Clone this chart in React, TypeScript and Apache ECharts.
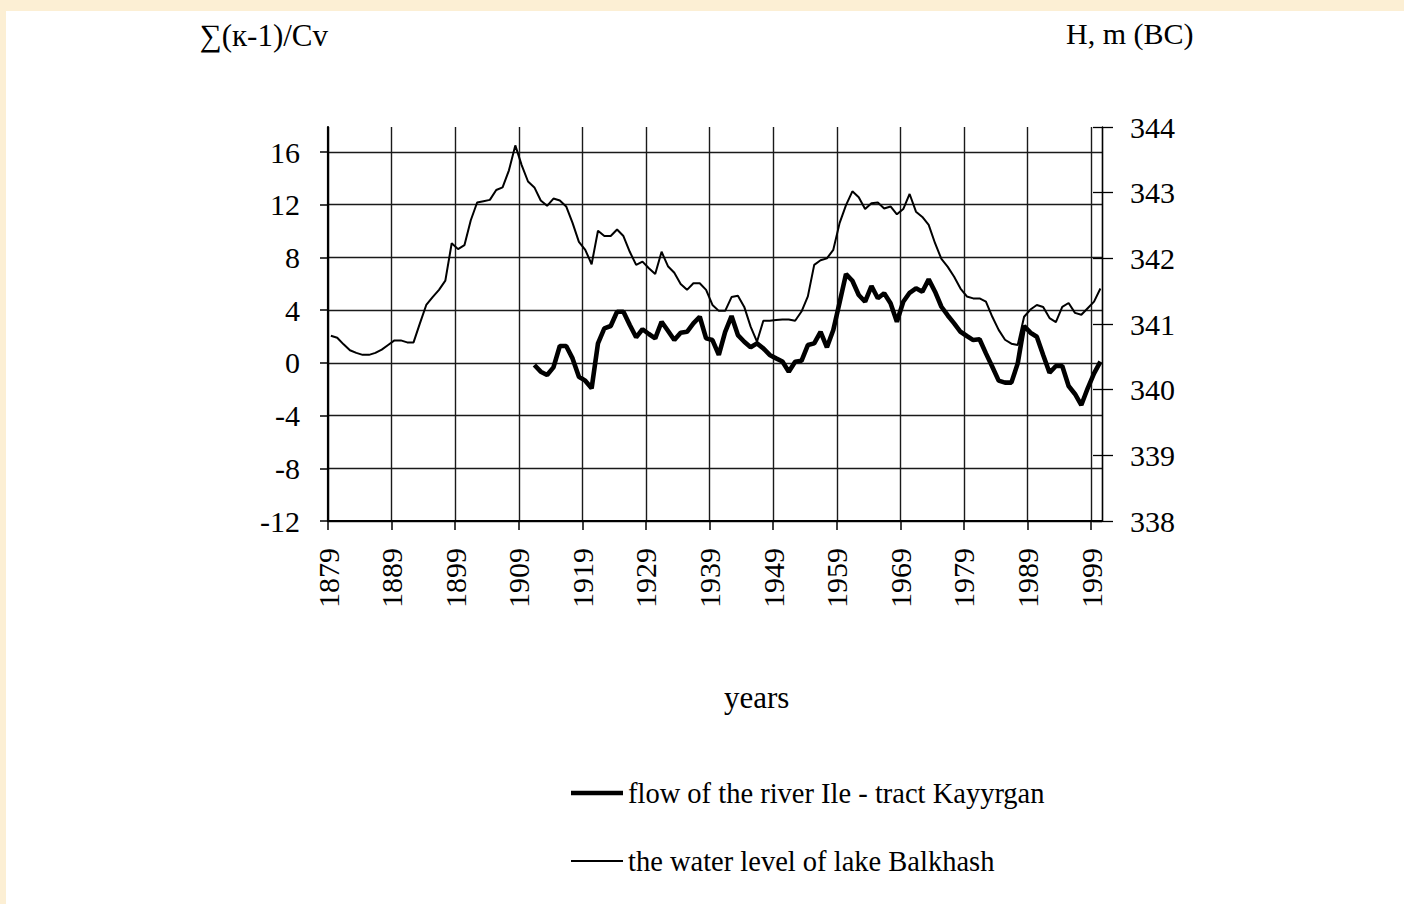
import React, { useEffect, useRef } from "react";
import * as echarts from "echarts";

// ---- data ----
const FIRST_YEAR = 1879;
const X_SHIFT = 0.45; // points are plotted slightly right of the year tick
const AXIS_END = 121.7; // right axis sits a little after the last year
const LAST_TICK = 120; // 1999

const leftMin = -12;
const leftMax = 16;
const leftPlotTop = 17.9; // left scale value at the top of the frame
const rightMin = 338;
const rightMax = 344;

const lakeStartYear = 1879;
// water level of lake Balkhash, H m (BC), 1879..2000
const lakeLevel = [
  340.82, 340.79, 340.69, 340.6, 340.56, 340.53, 340.53, 340.56, 340.61, 340.68,
  340.75, 340.75, 340.72, 340.72, 341.01, 341.29, 341.41, 341.52, 341.66, 342.23,
  342.14, 342.2, 342.58, 342.85, 342.87, 342.89, 343.04, 343.08, 343.34, 343.72,
  343.42, 343.17, 343.08, 342.88, 342.8, 342.91, 342.88, 342.79, 342.54, 342.25,
  342.13, 341.91, 342.42, 342.34, 342.34, 342.44, 342.34, 342.1, 341.9, 341.95,
  341.85, 341.76, 342.1, 341.88, 341.78, 341.61, 341.52, 341.62, 341.62, 341.52,
  341.29, 341.2, 341.2, 341.41, 341.43, 341.26, 340.96, 340.73, 341.05, 341.05,
  341.06, 341.07, 341.07, 341.05, 341.19, 341.42, 341.9, 341.97, 342.0, 342.13,
  342.54, 342.81, 343.02, 342.93, 342.75, 342.84, 342.85, 342.76, 342.79, 342.67,
  342.75, 342.98, 342.71, 342.63, 342.51, 342.23, 341.99, 341.87, 341.72, 341.54,
  341.42, 341.39, 341.39, 341.34, 341.11, 340.91, 340.76, 340.7, 340.68, 341.11,
  341.22, 341.29, 341.26, 341.09, 341.03, 341.26, 341.32, 341.17, 341.14, 341.24,
  341.34, 341.54,
];

const ileStartYear = 1911;
// flow of the river Ile - tract Kayyrgan, sum(k-1)/Cv, 1911..2000
const ileFlow = [
  -0.16, -0.67, -0.92, -0.34, 1.28, 1.28, 0.34, -1.05, -1.35, -1.93,
  1.48, 2.62, 2.8, 3.88, 3.88, 2.87, 1.94, 2.55, 2.19, 1.86,
  3.12, 2.44, 1.73, 2.29, 2.36, 3.0, 3.5, 1.86, 1.73, 0.6,
  2.36, 3.55, 2.11, 1.6, 1.18, 1.48, 1.1, 0.6, 0.34, 0.1,
  -0.67, 0.09, 0.16, 1.35, 1.48, 2.36, 1.18, 2.49, 4.6, 6.74,
  6.23, 5.15, 4.64, 5.83, 4.9, 5.28, 4.52, 3.12, 4.64, 5.32,
  5.66, 5.4, 6.34, 5.4, 4.26, 3.6, 3.0, 2.36, 2.04, 1.73,
  1.79, 0.72, -0.3, -1.35, -1.5, -1.5, -0.04, 2.8, 2.29, 1.98,
  0.6, -0.75, -0.24, -0.24, -1.76, -2.36, -3.2, -1.93, -0.8, 0.09,
];

const ileName = "flow of the river Ile - tract Kayyrgan";
const lakeName = "the water level of lake Balkhash";

const FONT = "'Liberation Serif', 'DejaVu Serif', serif";

const toPoints = (start: number, values: number[]) =>
  values.map((v, i) => [start + i - FIRST_YEAR + X_SHIFT, v]);

// frame geometry
const PLOT_LEFT = 328;
const PLOT_RIGHT_X = 1102;
const PLOT_TOP = 127;
const PLOT_BOTTOM_Y = 521;
const W = 1404;
const H = 904;

export default function App() {
  const ref = useRef<HTMLDivElement>(null);

  useEffect(() => {
    if (!ref.current) return;
    const chart = echarts.init(ref.current, null, { renderer: "svg" });
    const gridLine = { color: "#1a1a1a", width: 1.4 };
    const plotW = PLOT_RIGHT_X - PLOT_LEFT;
    const tickW = (plotW * LAST_TICK) / AXIS_END;
    const plotH = PLOT_BOTTOM_Y - PLOT_TOP;
    const leftTopY = PLOT_BOTTOM_Y - (plotH * (leftMax - leftMin)) / (leftPlotTop - leftMin);
    const labelStyle = { fontSize: 30, fontFamily: FONT, color: "#000" };

    chart.setOption({
      animation: false,
      backgroundColor: "#ffffff",
      textStyle: { fontFamily: FONT, color: "#000" },
      grid: [
        // main frame: series, lines, grid
        { left: PLOT_LEFT, right: W - PLOT_RIGHT_X, top: PLOT_TOP, bottom: H - PLOT_BOTTOM_Y },
        // tick/label layer for the year axis and the left scale
        { left: PLOT_LEFT, width: tickW, top: leftTopY, bottom: H - PLOT_BOTTOM_Y },
        // inner half of the crossing ticks on the right scale
        { left: PLOT_LEFT, right: W - PLOT_RIGHT_X, top: PLOT_TOP, bottom: H - PLOT_BOTTOM_Y },
      ],
      xAxis: [
        {
          gridIndex: 0,
          type: "value",
          min: 0,
          max: AXIS_END,
          interval: 10,
          axisLine: { show: true, onZero: false, lineStyle: { color: "#000", width: 2.2 } },
          axisTick: { show: false },
          axisLabel: { show: false },
          splitLine: { show: true, lineStyle: gridLine },
        },
        {
          gridIndex: 1,
          type: "value",
          min: 0,
          max: LAST_TICK,
          interval: 10,
          axisLine: { show: false, onZero: false },
          axisTick: { show: true, length: 9, lineStyle: { color: "#000", width: 1.5 } },
          axisLabel: {
            ...labelStyle,
            rotate: 90,
            margin: 27,
            formatter: (v: number) => String(FIRST_YEAR + v),
          },
          splitLine: { show: false },
        },
        { gridIndex: 2, type: "value", min: 0, max: 1, show: false },
      ],
      yAxis: [
        {
          gridIndex: 0,
          type: "value",
          position: "left",
          min: leftMin,
          max: leftPlotTop,
          interval: 4,
          axisLine: { show: true, onZero: false, lineStyle: { color: "#000", width: 2.2 } },
          axisTick: { show: false },
          axisLabel: { show: false },
          splitLine: { show: true, showMaxLine: false, lineStyle: gridLine },
        },
        {
          gridIndex: 0,
          type: "value",
          position: "right",
          min: rightMin,
          max: rightMax,
          interval: 1,
          axisLine: { show: true, onZero: false, lineStyle: { color: "#000", width: 1.3 } },
          axisTick: { show: true, inside: false, length: 11, lineStyle: { color: "#000", width: 1.3 } },
          axisLabel: { ...labelStyle, margin: 28 },
          splitLine: { show: false },
        },
        {
          gridIndex: 1,
          type: "value",
          position: "left",
          min: leftMin,
          max: leftMax,
          interval: 4,
          axisLine: { show: false, onZero: false },
          axisTick: { show: true, length: 8, lineStyle: { color: "#000", width: 1.5 } },
          axisLabel: { ...labelStyle, margin: 28 },
          splitLine: { show: false },
        },
        {
          gridIndex: 2,
          type: "value",
          position: "right",
          min: rightMin,
          max: rightMax,
          interval: 1,
          axisLine: { show: false, onZero: false },
          axisTick: { show: true, inside: true, length: 9, lineStyle: { color: "#000", width: 1.3 } },
          axisLabel: { show: false },
          splitLine: { show: false },
        },
      ],
      legend: {
        orient: "vertical",
        left: 571,
        top: 778,
        padding: 0,
        itemWidth: 52,
        itemHeight: 30,
        itemGap: 38,
        selectedMode: false,
        textStyle: { fontSize: 28.5, fontFamily: FONT, color: "#000", lineHeight: 30 },
        data: [
          { name: ileName, icon: "path://M0,0H52V4.6H0Z" },
          { name: lakeName, icon: "path://M0,0H52V1.9H0Z" },
        ],
      },
      graphic: [
        { type: "rect", silent: true, z: -10, shape: { x: 0, y: 0, width: W, height: 11 }, style: { fill: "#fcefd4" } },
        { type: "rect", silent: true, z: -10, shape: { x: 0, y: 0, width: 6, height: H }, style: { fill: "#fcefd4" } },
        {
          type: "text",
          x: 328,
          y: 35,
          style: { text: "∑(к-1)/Cv", font: `31px ${FONT}`, fill: "#000", align: "right", verticalAlign: "middle" },
        },
        {
          type: "text",
          x: 1066,
          y: 33,
          style: { text: "H, m (BC)", font: `30px ${FONT}`, fill: "#000", align: "left", verticalAlign: "middle" },
        },
        {
          type: "text",
          x: 724,
          y: 697,
          style: { text: "years", font: `31px ${FONT}`, fill: "#000", align: "left", verticalAlign: "middle" },
        },
      ],
      series: [
        {
          name: lakeName,
          type: "line",
          xAxisIndex: 0,
          yAxisIndex: 1,
          symbol: "none",
          data: toPoints(lakeStartYear, lakeLevel),
          lineStyle: { color: "#000", width: 2 },
          itemStyle: { color: "#000" },
          z: 3,
        },
        {
          name: ileName,
          type: "line",
          xAxisIndex: 0,
          yAxisIndex: 0,
          symbol: "none",
          data: toPoints(ileStartYear, ileFlow),
          lineStyle: { color: "#000", width: 4.6 },
          itemStyle: { color: "#000" },
          z: 4,
        },
      ],
    });
    return () => chart.dispose();
  }, []);

  return (
    <div
      ref={ref}
      style={{ position: "fixed", left: 0, top: 0, width: W, height: H, background: "#fff" }}
    />
  );
}
